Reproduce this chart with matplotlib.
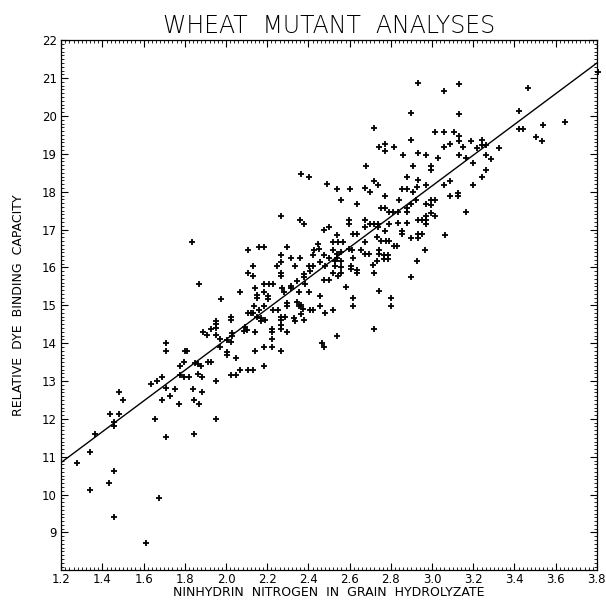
import matplotlib
matplotlib.use('Agg')
import matplotlib.pyplot as plt
from matplotlib.ticker import MultipleLocator
import numpy as np

# ninhydrin nitrogen (x) / relative dye binding capacity (y)
ninhydrin_n = [
    # low end
    1.278, 1.342, 1.363, 1.339, 1.434, 1.455, 1.455, 1.437, 1.458, 1.458,
    1.479, 1.479, 1.500, 1.638, 1.667, 1.691, 1.710, 1.710, 1.710, 1.689,
    1.657, 1.710, 1.730, 1.754, 1.675, 1.613, 1.775, 1.798, 1.778, 1.794,
    1.819, 1.773, 1.800, 1.810, 1.838, 1.846, 1.846, 1.869, 1.951, 1.836,
    # 1.85 - 2.6, upper
    2.363, 2.405, 2.489, 2.540, 2.560, 2.266, 2.359, 2.380, 2.476, 2.498,
    2.540, 2.521, 2.543, 2.566, 2.107, 2.159, 2.182, 2.295, 2.447, 2.427,
    2.450, 2.266, 2.317, 2.359, 2.424, 2.476, 2.498, 2.518, 2.540, 2.540,
    2.560, 2.266, 2.130, 2.246, 2.337, 2.401, 2.424, 2.456, 2.479, 2.527,
    2.527, 2.560, 2.560,
    # 1.85 - 2.6, lower
    2.107, 2.132, 2.269, 2.269, 2.379, 2.379, 2.406, 2.476, 2.498, 2.519,
    2.543, 2.560, 1.868, 2.067, 2.140, 2.185, 2.208, 2.230, 2.272, 2.317,
    2.317, 2.282, 2.342, 2.353, 2.405, 2.382, 2.148, 2.148, 2.185, 2.204,
    2.204, 1.975, 2.136, 2.159, 2.185, 2.250, 2.230, 2.298, 2.298, 2.342,
    2.353, 2.363, 2.374, 2.456, 2.408, 2.424, 2.456, 2.479, 2.521, 2.107,
    2.120, 2.133, 2.148, 2.172, 2.172, 2.188, 2.266, 2.266, 2.288, 2.330,
    2.334, 2.363, 2.376, 2.023, 2.023, 1.949, 1.949, 1.949, 1.927, 1.889,
    1.910, 1.949, 1.972, 2.004, 2.027, 2.027, 2.023, 2.085, 2.094, 2.101,
    2.140, 2.224, 2.224, 2.266, 2.266, 2.295, 2.224, 2.185, 2.224, 2.140,
    2.266, 2.466, 2.476, 2.540, 1.969, 2.004, 2.004, 1.914, 1.927, 1.849,
    1.862, 1.878, 2.046, 1.865, 1.885, 2.023, 2.046, 2.067, 2.107, 2.130,
    2.185, 1.949, 1.881,
    # 2.6 - 3.2, upper
    2.931, 3.132, 3.057, 2.899, 3.130, 2.718, 3.012, 3.056, 3.106, 3.130,
    3.130, 2.899, 3.190, 3.086, 2.770, 2.741, 2.773, 2.815, 3.057, 3.149,
    2.859, 2.931, 2.970, 3.031, 3.130, 3.167,
    # 2.6 - 3.2, middle
    2.679, 2.909, 2.993, 2.993, 2.876, 2.931, 2.602, 2.676, 2.699, 2.718,
    2.738, 2.854, 2.876, 2.909, 2.928, 2.970, 3.057, 3.086, 3.199, 3.086,
    3.125, 3.125, 2.773, 2.838, 2.634, 2.750, 2.770, 2.792, 2.812, 2.834,
    2.876, 2.876, 2.899, 2.922, 2.970, 2.993, 2.993, 3.012, 2.993, 3.012,
    3.167, 2.599, 2.599, 2.676, 2.699, 2.718, 2.676, 2.738, 2.792, 2.834,
    2.876, 2.931, 2.951, 2.970, 2.970, 2.970, 2.770, 2.738, 2.854, 2.854,
    2.931, 2.951, 2.615, 2.634, 2.676, 2.734, 2.754, 2.776, 2.792, 2.815,
    2.831, 2.899, 2.931, 3.064, 2.964, 2.599, 2.612, 2.654, 2.676, 2.696,
    2.744, 2.744, 2.767, 2.786, 2.767, 2.786, 2.615, 2.734, 2.715, 2.608,
    2.608, 2.637, 2.637, 2.718, 2.925, 2.899,
    # 2.6 - 3.2, lower
    2.582, 2.741, 2.615, 2.615, 2.802, 2.802, 2.718,
    # right end
    3.803, 3.466, 3.421, 3.421, 3.440, 3.537, 3.643, 3.505, 3.534, 3.243,
    3.243, 3.262, 3.220, 3.327, 3.198, 3.262, 3.285, 3.262, 3.243,
]

dye_binding = [
    # low end
    10.83, 11.12, 11.61, 10.13, 10.32, 10.63, 9.40, 12.12, 11.92, 11.82,
    12.12, 12.72, 12.51, 12.91, 12.99, 13.10, 14.01, 13.80, 12.82, 12.50,
    12.01, 11.52, 12.61, 12.80, 9.91, 8.71, 13.41, 13.50, 13.17, 13.10,
    13.10, 12.40, 13.80, 13.80, 12.80, 12.50, 11.60, 12.40, 12.01, 16.66,
    # 1.85 - 2.6, upper
    18.48, 18.38, 18.20, 18.08, 17.78, 17.36, 17.26, 17.16, 16.99, 17.07,
    16.86, 16.66, 16.66, 16.66, 16.45, 16.55, 16.55, 16.55, 16.62, 16.45,
    16.48, 16.34, 16.26, 16.26, 16.34, 16.34, 16.26, 16.45, 16.36, 16.26,
    16.40, 16.14, 16.05, 16.05, 16.05, 16.03, 16.05, 16.14, 16.05, 16.17,
    16.05, 16.17, 16.01,
    # 1.85 - 2.6, lower
    15.86, 15.77, 15.86, 15.77, 15.82, 15.74, 15.91, 15.67, 15.67, 15.86,
    15.77, 15.86, 15.56, 15.36, 15.45, 15.55, 15.55, 15.55, 15.45, 15.51,
    15.45, 15.36, 15.65, 15.36, 15.36, 15.55, 15.28, 15.19, 15.36, 15.25,
    15.16, 15.16, 14.97, 14.88, 14.99, 14.88, 14.88, 15.06, 14.97, 15.08,
    14.99, 15.02, 14.90, 15.25, 14.87, 14.87, 14.97, 14.80, 14.87, 14.80,
    14.80, 14.80, 14.69, 14.67, 14.58, 14.62, 14.69, 14.61, 14.69, 14.67,
    14.58, 14.76, 14.62, 14.69, 14.61, 14.58, 14.50, 14.41, 14.38, 14.30,
    14.21, 14.21, 14.10, 14.09, 14.28, 14.19, 14.02, 14.32, 14.43, 14.36,
    14.30, 14.38, 14.30, 14.47, 14.38, 14.30, 14.10, 13.89, 13.89, 13.80,
    13.80, 14.00, 13.89, 14.19, 13.89, 13.77, 13.69, 13.50, 13.50, 13.48,
    13.45, 13.41, 13.60, 13.19, 13.11, 13.17, 13.17, 13.30, 13.30, 13.30,
    13.39, 12.99, 12.70,
    # 2.6 - 3.2, upper
    20.86, 20.84, 20.66, 20.07, 20.05, 19.68, 19.57, 19.57, 19.57, 19.46,
    19.35, 19.36, 19.35, 19.26, 19.26, 19.17, 19.08, 19.17, 19.17, 19.17,
    18.98, 19.03, 18.98, 18.88, 18.98, 18.88,
    # 2.6 - 3.2, middle
    18.69, 18.67, 18.67, 18.58, 18.39, 18.31, 18.08, 18.10, 17.98, 18.27,
    18.18, 18.08, 18.08, 17.99, 18.13, 18.18, 18.18, 18.27, 18.18, 17.88,
    17.97, 17.88, 17.89, 17.79, 17.68, 17.58, 17.58, 17.47, 17.47, 17.47,
    17.58, 17.47, 17.68, 17.79, 17.68, 17.77, 17.66, 17.77, 17.44, 17.35,
    17.47, 17.26, 17.16, 17.26, 17.16, 17.16, 17.07, 17.16, 17.16, 17.18,
    17.18, 17.26, 17.26, 17.26, 17.35, 17.16, 16.97, 17.06, 16.97, 16.88,
    16.88, 16.88, 16.88, 16.88, 16.66, 16.80, 16.71, 16.71, 16.71, 16.57,
    16.57, 16.78, 16.78, 16.86, 16.45, 16.49, 16.45, 16.45, 16.36, 16.36,
    16.45, 16.36, 16.32, 16.32, 16.23, 16.23, 16.26, 16.17, 16.07, 16.05,
    15.96, 15.94, 15.86, 15.86, 16.17, 15.75,
    # 2.6 - 3.2, lower
    15.48, 15.37, 15.18, 14.99, 15.18, 14.99, 14.38,
    # right end
    21.15, 20.74, 20.13, 19.65, 19.65, 19.75, 19.83, 19.44, 19.34, 19.36,
    19.24, 19.23, 19.16, 19.16, 18.77, 18.97, 18.86, 18.57, 18.38,
]

# end points of the drawn regression line
fit_x = [1.2, 3.8]
fit_y = [10.85, 21.40]

x_ticks = [1.2, 1.4, 1.6, 1.8, 2.0, 2.2, 2.4, 2.6, 2.8, 3.0, 3.2, 3.4, 3.6, 3.8]
y_ticks = [9, 10, 11, 12, 13, 14, 15, 16, 17, 18, 19, 20, 21, 22]

fig = plt.figure(figsize=(6.06, 6.01), dpi=100)
ax = fig.add_axes([0.101, 0.051, 0.884, 0.882])

ax.plot(ninhydrin_n, dye_binding, linestyle='none', marker='+',
        ms=5, mew=1.3, color='black', clip_on=False)
ax.plot(fit_x, fit_y, color='black', lw=1.0)

ax.set_xlim(1.2, 3.8)
ax.set_ylim(8, 22)
ax.set_xticks(x_ticks)
ax.set_xticklabels(['%.1f' % v for v in x_ticks])
ax.set_yticks(y_ticks)
ax.set_yticklabels([str(v) for v in y_ticks])
ax.xaxis.set_minor_locator(MultipleLocator(0.02))
ax.yaxis.set_minor_locator(MultipleLocator(0.1))
ax.tick_params(which='both', direction='in', top=True, right=True,
               labelsize=8.5, width=0.8)
ax.tick_params(axis='x', pad=2)
ax.tick_params(axis='y', pad=3)
ax.tick_params(which='major', length=5)
ax.tick_params(which='minor', length=2.5, width=0.6)
for sp in ax.spines.values():
    sp.set_linewidth(0.9)

ax.set_xlabel('NINHYDRIN  NITROGEN  IN  GRAIN  HYDROLYZATE',
              fontsize=9, labelpad=0)
ax.set_ylabel('RELATIVE  DYE  BINDING  CAPACITY', fontsize=9, labelpad=12)
ax.set_title('WHEAT  MUTANT  ANALYSES', fontsize=17, fontweight='light',
             pad=5)

fig.savefig('out.png', dpi=100)
